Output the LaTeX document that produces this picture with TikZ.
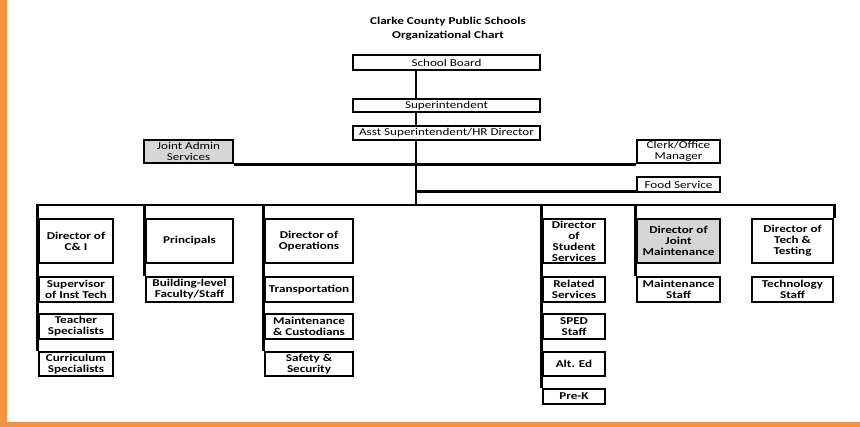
\documentclass[tikz,border=0pt]{standalone}
\usepackage{fontspec}
\setmainfont{Carlito}[FakeStretch=1.25]
\definecolor{orangebar}{HTML}{F39243}
\definecolor{grayfill}{HTML}{D6D6D6}
\tikzset{
  orgbox/.style={draw=black, line width=2.8pt, fill=white, inner sep=0pt, align=center,
    font=\fontsize{10.5}{11}\selectfont\bfseries},
  topbox/.style={orgbox, font=\fontsize{10.5}{11}\selectfont},
  shaded/.style={fill=grayfill},
  link/.style={line width=2.6pt, draw=black, line join=miter},
  titletext/.style={align=center, font=\fontsize{10.5}{14}\selectfont\bfseries}
}
\begin{document}
\begin{tikzpicture}[x=1pt,y=-1pt]
\useasboundingbox (0,0) rectangle (860,427);
\fill[white] (0,0) rectangle (860,427);
\fill[orangebar] (0,0) rectangle (7,427);
\fill[orangebar] (0,422) rectangle (860,427);

\node[titletext] (title) at (448,29) {Clarke County Public Schools\\Organizational Chart};

% top chain
\node[topbox, minimum width=187pt, minimum height=15pt] (sb) at (446.5,62.5) {School Board};
\node[topbox, minimum width=187pt, minimum height=13pt] (sup) at (446.5,105.5) {Superintendent};
\node[topbox, minimum width=187pt, minimum height=14pt] (asst) at (446.5,133) {Asst Superintendent/HR Director};
\node[topbox, shaded, minimum width=89pt, minimum height=23pt] (jas) at (188.5,151.5) {Joint Admin\\Services};
\node[topbox, minimum width=83pt, minimum height=23pt] (clerk) at (678.5,151.5) {Clerk/Office\\Manager};
\node[topbox, minimum width=83pt, minimum height=15pt] (food) at (678.5,184.5) {Food Service};

% column 1
\node[orgbox, minimum width=74pt, minimum height=44pt] (ci) at (76,241) {Director of\\C\& I};
\node[orgbox, minimum width=74pt, minimum height=25pt] (sit) at (76,289.5) {Supervisor\\of Inst Tech};
\node[orgbox, minimum width=74pt, minimum height=25pt] (ts) at (76,326.5) {Teacher\\Specialists};
\node[orgbox, minimum width=74pt, minimum height=24pt] (cs) at (76,364) {Curriculum\\Specialists};
% column 2
\node[orgbox, minimum width=87pt, minimum height=44pt] (pr) at (189.5,241) {Principals};
\node[orgbox, minimum width=87pt, minimum height=25pt] (blf) at (189.5,289.5) {Building-level\\Faculty/Staff};
% column 3
\node[orgbox, minimum width=88pt, minimum height=44pt] (ops) at (309,241) {Director of\\Operations};
\node[orgbox, minimum width=88pt, minimum height=25pt] (tr) at (309,289.5) {Transportation};
\node[orgbox, minimum width=88pt, minimum height=25pt] (mc) at (309,326.5) {Maintenance\\\& Custodians};
\node[orgbox, minimum width=88pt, minimum height=24pt] (ss) at (309,364) {Safety \&\\Security};
% column 4
\node[orgbox, minimum width=62pt, minimum height=44pt] (dss) at (574,241) {Director\\of\\Student\\Services};
\node[orgbox, minimum width=62pt, minimum height=25pt] (rs) at (574,289.5) {Related\\Services};
\node[orgbox, minimum width=62pt, minimum height=25pt] (sped) at (574,326.5) {SPED\\Staff};
\node[orgbox, minimum width=62pt, minimum height=24pt] (alt) at (574,364) {Alt. Ed};
\node[orgbox, minimum width=62pt, minimum height=15pt] (prek) at (574,396.5) {Pre-K};
% column 5
\node[orgbox, shaded, minimum width=83pt, minimum height=44pt] (djm) at (678.5,241) {Director of\\Joint\\Maintenance};
\node[orgbox, minimum width=83pt, minimum height=25pt] (ms) at (678.5,289.5) {Maintenance\\Staff};
% column 6
\node[orgbox, minimum width=81pt, minimum height=44pt] (dtt) at (792.5,241) {Director of\\Tech \&\\Testing};
\node[orgbox, minimum width=81pt, minimum height=25pt] (tst) at (792.5,289.5) {Technology\\Staff};

% connectors
\coordinate (vx) at (416,0);
\coordinate (bus) at (416,205);
\draw[link] (sb.south -| vx) -- (sup.north -| vx);
\draw[link] (sup.south -| vx) -- (asst.north -| vx);
\draw[link] (asst.south -| vx) -- (bus);
\draw[link] (jas.south east) -- (clerk.south west);
\coordinate (fl) at ([yshift=2pt]food.south west);
\draw[link] (fl -| vx) -- (fl);
\draw[link] (cs.north west) -- (ci.north west |- bus) -- (dtt.north east |- bus) -- (dtt.north east);
\draw[link] (pr.north west |- bus) -- (blf.north west);
\draw[link] (ops.north west |- bus) -- (ss.north west);
\draw[link] (dss.north west |- bus) -- (prek.north west);
\draw[link] (djm.north west |- bus) -- (ms.north west);
\end{tikzpicture}
\end{document}
